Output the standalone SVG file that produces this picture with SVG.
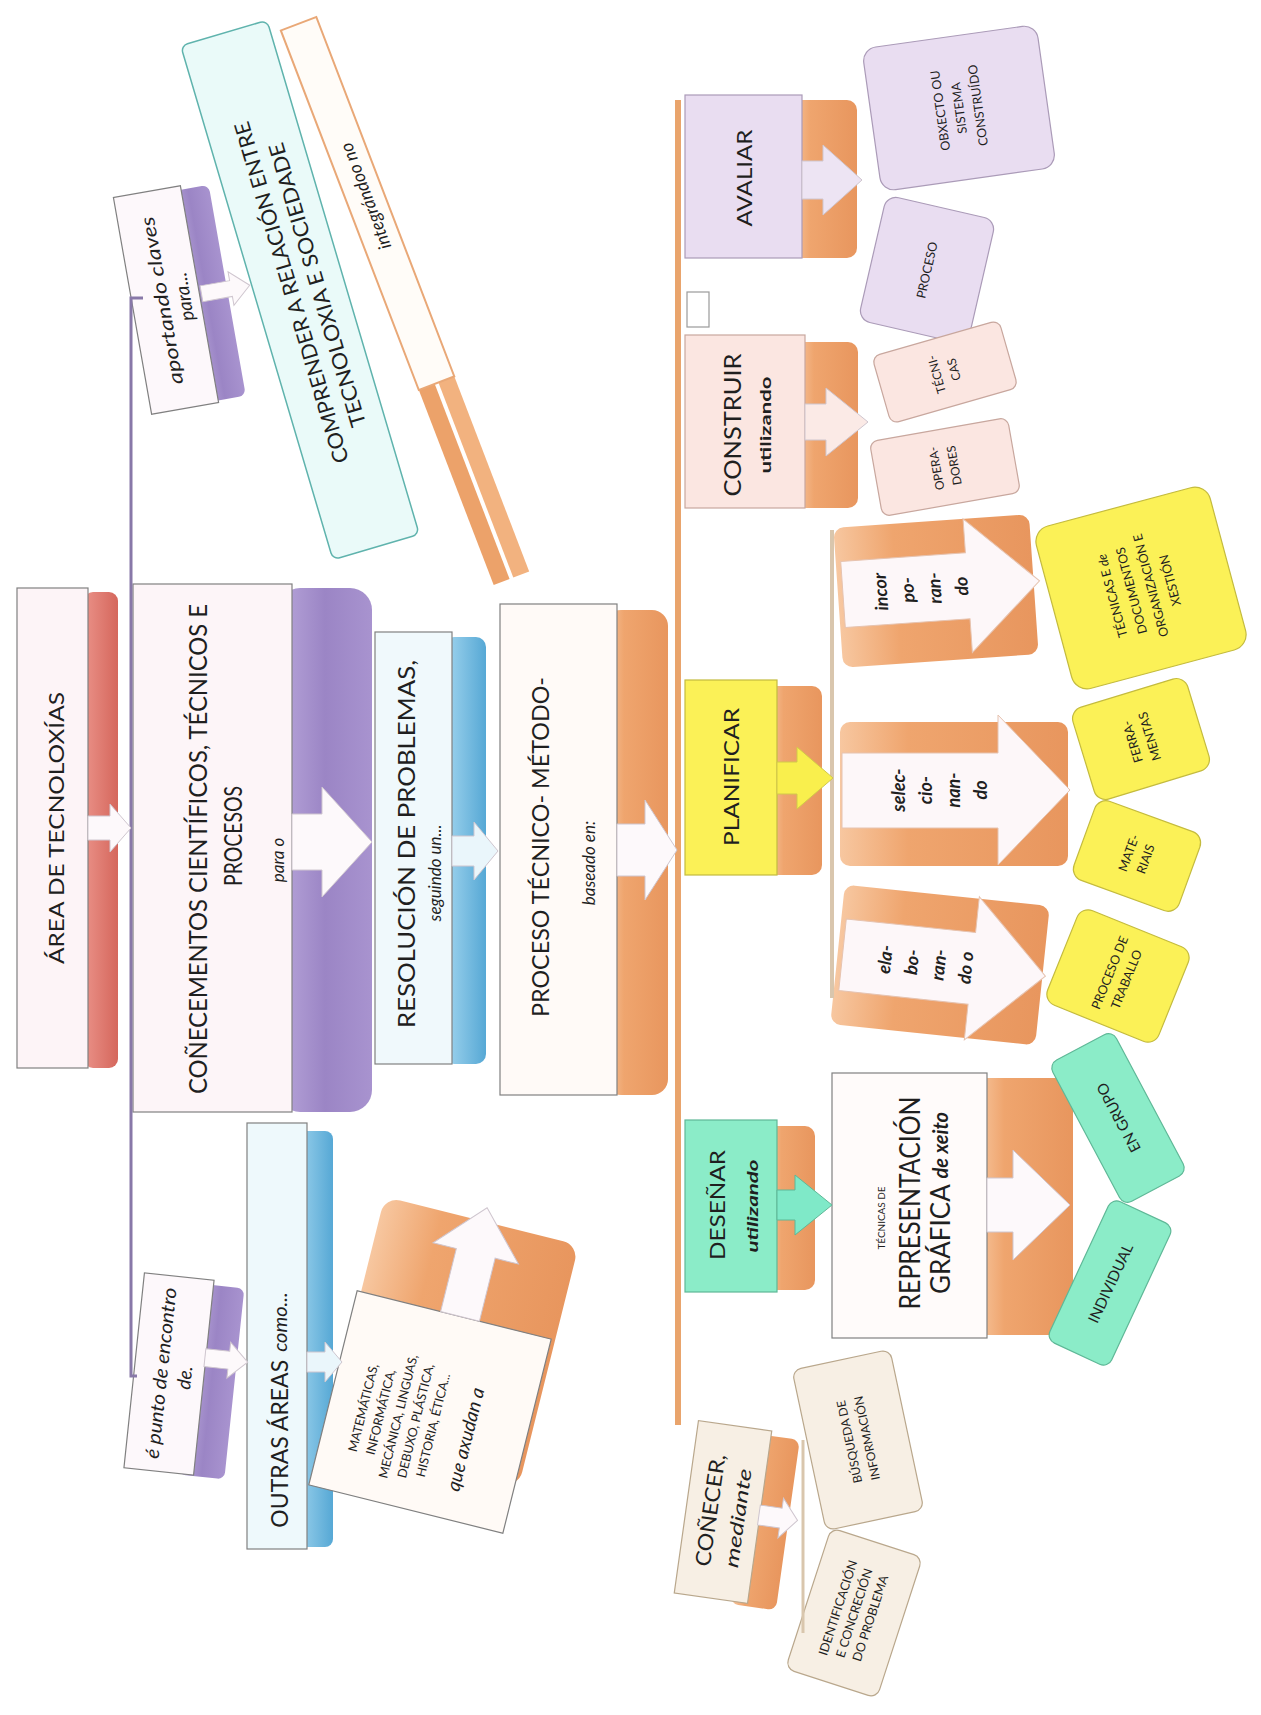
<svg xmlns="http://www.w3.org/2000/svg" width="1261" height="1715" viewBox="0 0 1261 1715">
<defs>
<linearGradient id="gO" x1="0" y1="0" x2="1" y2="0"><stop offset="0" stop-color="#f7c7a0"/><stop offset="0.3" stop-color="#efa56e"/><stop offset="1" stop-color="#e8965e"/></linearGradient>
<linearGradient id="gP" x1="0" y1="0" x2="1" y2="0"><stop offset="0" stop-color="#b8a6da"/><stop offset="0.5" stop-color="#9b85c5"/><stop offset="1" stop-color="#a893cf"/></linearGradient>
<linearGradient id="gR" x1="0" y1="0" x2="1" y2="0"><stop offset="0" stop-color="#ea9188"/><stop offset="1" stop-color="#d5675c"/></linearGradient>
<linearGradient id="gB" x1="0" y1="0" x2="1" y2="0"><stop offset="0" stop-color="#a3d6ef"/><stop offset="1" stop-color="#56a8d5"/></linearGradient>
</defs>
<style>
text{font-family:Lato,"Liberation Sans","DejaVu Sans",sans-serif;fill:#1f1f1f;text-anchor:middle;dominant-baseline:central}
.it{font-style:italic}
.bd{font-weight:bold}
.bx{stroke:#808080;stroke-width:1.2}
.yl{fill:#fbf157;stroke:#c4bb3e;stroke-width:1.2}
.mn{fill:#8becc8;stroke:#5fb897;stroke-width:1.2}
.lv{fill:#e9ddf1;stroke:#ab9bb8;stroke-width:1.2}
.pk{fill:#fbe6e1;stroke:#c8a79e;stroke-width:1.2}
.bg{fill:#f7efe4;stroke:#b9a78c;stroke-width:1.2}
.aw{fill:#fdf9fb;stroke:#cfc6cf;stroke-width:1}
.or{fill:url(#gO)}
</style>
<rect width="1261" height="1715" fill="#ffffff"/>

<g id="nodes">
<g id="area">
<rect x="84" y="592" width="34" height="476" rx="9" fill="url(#gR)"/>
<rect x="17" y="588" width="71" height="480" class="bx" fill="#fdf4f7"/>
<text transform="translate(55,828) rotate(-90)" font-size="21" textLength="272" lengthAdjust="spacingAndGlyphs">ÁREA DE TECNOLOXÍAS</text>
</g>

<g id="conecementos">
<rect x="278" y="588" width="94" height="524" rx="22" fill="url(#gP)"/>
<rect x="133" y="584" width="159" height="528" class="bx" fill="#fdf5f8"/>
<text transform="translate(197,849) rotate(-90)" font-size="25" textLength="490" lengthAdjust="spacingAndGlyphs">COÑECEMENTOS CIENTÍFICOS, TÉCNICOS E</text>
<text transform="translate(232,836) rotate(-90)" font-size="25" textLength="100" lengthAdjust="spacingAndGlyphs">PROCESOS</text>
<text transform="translate(277,860) rotate(-90)" class="it" font-size="17">para o</text>
</g>

<g id="resolucion">
<rect x="444" y="637" width="42" height="427" rx="10" fill="url(#gB)"/>
<rect x="375" y="632" width="77" height="432" class="bx" fill="#f0f9fc"/>
<text transform="translate(405,844) rotate(-90)" font-size="24" textLength="368" lengthAdjust="spacingAndGlyphs">RESOLUCIÓN DE PROBLEMAS,</text>
<text transform="translate(434,873) rotate(-90)" class="it" font-size="17">seguindo un...</text>
</g>

<g id="proceso">
<rect x="605" y="610" width="63" height="485" rx="16" class="or"/>
<rect x="500" y="604" width="117" height="491" class="bx" fill="#fffaf7"/>
<text transform="translate(539,847) rotate(-90)" font-size="24" textLength="340" lengthAdjust="spacingAndGlyphs">PROCESO TÉCNICO- MÉTODO-</text>
<text transform="translate(588,863) rotate(-90)" class="it" font-size="17">baseado en:</text>
</g>

<g id="aportando" transform="translate(166,300) rotate(-10)">
<rect x="20" y="-106" width="42" height="214" rx="7" fill="url(#gP)"/>
<rect x="-34" y="-110" width="68" height="220" class="bx" fill="#fdf8fb"/>
<text transform="translate(-5,0) rotate(-90)" class="it" font-size="19" textLength="170" lengthAdjust="spacingAndGlyphs">aportando claves</text>
<text transform="translate(17,0) rotate(-90)" class="it" font-size="19">para...</text>
</g>

<g id="comprender" transform="translate(300,290) rotate(-16.5)">
<rect x="-45" y="-268" width="90" height="536" rx="7" fill="#eafaf9" stroke="#5fb3ad" stroke-width="1.5"/>
<text transform="translate(-10,0) rotate(-90)" font-size="21" textLength="355" lengthAdjust="spacingAndGlyphs">COMPRENDER A RELACIÓN ENTRE</text>
<text transform="translate(17,0) rotate(-90)" font-size="21" textLength="295" lengthAdjust="spacingAndGlyphs">TECNOLOXIA E SOCIEDADE</text>
</g>

<g id="integrando" transform="translate(405,301) rotate(-21)">
<rect x="-19" y="88" width="17" height="209" fill="#eca26a"/>
<rect x="2" y="88" width="17" height="209" fill="#f2b27f"/>
<rect x="-19" y="-297" width="38" height="385" fill="#fffcf8" stroke="#e9a877" stroke-width="2"/>
<text transform="translate(0,-112) rotate(-90)" class="it" font-size="18">integrándoo no</text>
</g>

<g id="epunto" transform="translate(169,1374) rotate(6)">
<rect x="20" y="-93" width="46" height="192" rx="7" fill="url(#gP)"/>
<rect x="-35" y="-98" width="70" height="196" class="bx" fill="#fdf8fb"/>
<text transform="translate(-9,0) rotate(-90)" class="it" font-size="19" textLength="172" lengthAdjust="spacingAndGlyphs">é punto de encontro</text>
<text transform="translate(15,2) rotate(-90)" class="it" font-size="19">de.</text>
</g>

<g id="outras">
<rect x="293" y="1131" width="40" height="416" rx="8" fill="url(#gB)"/>
<rect x="247" y="1123" width="60" height="426" class="bx" fill="#eef9fc"/>
<text transform="translate(279,1410) rotate(-90)" font-size="23"><tspan>OUTRAS ÁREAS</tspan><tspan class="it" font-size="20" dx="8">como...</tspan></text>
</g>

<g id="materias" transform="translate(430,1412) rotate(14)">
<rect x="-96" y="-198" width="200" height="250" rx="16" class="or"/>
<rect x="-100" y="-100" width="200" height="200" class="bx" fill="#fffaf6"/>
<text transform="translate(-66,12) rotate(-90)" font-size="12.5">MATEMÁTICAS,</text>
<text transform="translate(-48,12) rotate(-90)" font-size="12.5">INFORMÁTICA,</text>
<text transform="translate(-30,12) rotate(-90)" font-size="12.5">MECÁNICA, LINGUAS,</text>
<text transform="translate(-12,12) rotate(-90)" font-size="12.5">DEBUXO, PLÁSTICA,</text>
<text transform="translate(6,12) rotate(-90)" font-size="12.5">HISTORIA, ÉTICA...</text>
<text transform="translate(40,18) rotate(-90)" class="it" font-size="19">que axudan a</text>
</g>

<g id="avaliar">
<rect x="790" y="100" width="67" height="158" rx="10" class="or"/>
<rect x="685" y="95" width="117" height="163" class="lv"/>
<text transform="translate(743,178) rotate(-90)" font-size="22" textLength="97" lengthAdjust="spacingAndGlyphs">AVALIAR</text>
</g>

<g id="obxecto" transform="translate(959,108) rotate(-8)">
<rect x="-88" y="-72" width="176" height="144" rx="14" class="lv"/>
<text transform="translate(-19,0) rotate(-90)" font-size="12.5">OBXECTO OU</text>
<text transform="translate(0,0) rotate(-90)" font-size="12.5">SISTEMA</text>
<text transform="translate(19,0) rotate(-90)" font-size="12.5">CONSTRUÍDO</text>
</g>

<g id="proceso-avaliar" transform="translate(927,270) rotate(13)">
<rect x="-56" y="-64" width="112" height="128" rx="12" class="lv"/>
<text transform="rotate(-90)" font-size="12.5">PROCESO</text>
</g>

<g id="cadro-baleiro">
<rect x="687" y="292" width="22" height="35" fill="#ffffff" stroke="#9a9a9a" stroke-width="1.2"/>
</g>

<g id="construir">
<rect x="795" y="342" width="63" height="166" rx="10" class="or"/>
<rect x="685" y="335" width="120" height="173" class="pk"/>
<text transform="translate(732,425) rotate(-90)" font-size="23" textLength="143" lengthAdjust="spacingAndGlyphs">CONSTRUIR</text>
<text transform="translate(764,425) rotate(-90)" class="bd" font-size="16" textLength="97" lengthAdjust="spacingAndGlyphs">utilizando</text>
</g>

<g id="tecnicas-construir" transform="translate(945,372) rotate(-16)">
<rect x="-66" y="-35" width="132" height="70" rx="8" class="pk"/>
<text transform="translate(-9,0) rotate(-90)" font-size="12">TÉCNI-</text>
<text transform="translate(9,0) rotate(-90)" font-size="12">CAS</text>
</g>

<g id="operadores" transform="translate(945,467) rotate(-10)">
<rect x="-70" y="-38" width="140" height="76" rx="8" class="pk"/>
<text transform="translate(-9,0) rotate(-90)" font-size="12">OPERA-</text>
<text transform="translate(9,0) rotate(-90)" font-size="12">DORES</text>
</g>

<g id="planificar">
<rect x="767" y="686" width="55" height="189" rx="10" class="or"/>
<rect x="685" y="680" width="92" height="195" class="yl"/>
<text transform="translate(730,777) rotate(-90)" font-size="22" textLength="138" lengthAdjust="spacingAndGlyphs">PLANIFICAR</text>
</g>

<g id="incorporando" transform="translate(936,591) rotate(-4)">
<rect x="-98" y="-70" width="196" height="140" rx="10" class="or"/>
<polygon points="-93,-36 32,-36 32,-70 104,-3 32,64 32,30 -93,30" fill="#fdf7f9" stroke="#e6c3b0" stroke-width="1"/>
<text transform="translate(-56,-3) rotate(-90)" class="it bd" font-size="18">incor</text>
<text transform="translate(-29,-3) rotate(-90)" class="it bd" font-size="18">po-</text>
<text transform="translate(-2,-3) rotate(-90)" class="it bd" font-size="18">ran-</text>
<text transform="translate(25,-3) rotate(-90)" class="it bd" font-size="18">do</text>
</g>

<g id="seleccionando" transform="translate(954,794)">
<rect x="-114" y="-72" width="228" height="144" rx="10" class="or"/>
<polygon points="-112,-41 44,-41 44,-79 116,-4 44,71 44,34 -112,34" fill="#fdf7f9" stroke="#e6c3b0" stroke-width="1"/>
<text transform="translate(-56,-4) rotate(-90)" class="it bd" font-size="18">selec-</text>
<text transform="translate(-29,-4) rotate(-90)" class="it bd" font-size="18">cio-</text>
<text transform="translate(-1,-4) rotate(-90)" class="it bd" font-size="18">nan-</text>
<text transform="translate(26,-4) rotate(-90)" class="it bd" font-size="18">do</text>
</g>

<g id="elaborando" transform="translate(940,965) rotate(6)">
<rect x="-103" y="-70" width="206" height="140" rx="10" class="or"/>
<polygon points="-98,-36 32,-36 32,-72 106,0 32,72 32,36 -98,36" fill="#fdf7f9" stroke="#e6c3b0" stroke-width="1"/>
<text transform="translate(-56,0) rotate(-90)" class="it bd" font-size="18">ela-</text>
<text transform="translate(-29,0) rotate(-90)" class="it bd" font-size="18">bo-</text>
<text transform="translate(-2,0) rotate(-90)" class="it bd" font-size="18">ran-</text>
<text transform="translate(25,0) rotate(-90)" class="it bd" font-size="18">do o</text>
</g>

<g id="tecnicas-documentos" transform="translate(1141,588) rotate(-15)">
<rect x="-90" y="-84" width="180" height="168" rx="16" class="yl"/>
<text transform="translate(-30,0) rotate(-90)" font-size="12.5">TÉCNICAS E <tspan class="it">de</tspan></text>
<text transform="translate(-10,0) rotate(-90)" font-size="12.5">DOCUMENTOS</text>
<text transform="translate(10,0) rotate(-90)" font-size="12.5">ORGANIZACIÓN E</text>
<text transform="translate(30,0) rotate(-90)" font-size="12.5">XESTIÓN</text>
</g>

<g id="ferramentas" transform="translate(1141,739) rotate(-17)">
<rect x="-60" y="-48" width="120" height="96" rx="12" class="yl"/>
<text transform="translate(-9,0) rotate(-90)" font-size="12.5">FERRA-</text>
<text transform="translate(9,0) rotate(-90)" font-size="12.5">MENTAS</text>
</g>

<g id="materiais" transform="translate(1137,856) rotate(20)">
<rect x="-56" y="-42" width="112" height="84" rx="12" class="yl"/>
<text transform="translate(-9,0) rotate(-90)" font-size="12.5">MATE-</text>
<text transform="translate(9,0) rotate(-90)" font-size="12.5">RIAIS</text>
</g>

<g id="proceso-traballo" transform="translate(1118,976) rotate(22)">
<rect x="-60" y="-51" width="120" height="102" rx="12" class="yl"/>
<text transform="translate(-9,0) rotate(-90)" font-size="12.5">PROCESO DE</text>
<text transform="translate(9,0) rotate(-90)" font-size="12.5">TRABALLO</text>
</g>

<g id="desenar">
<rect x="767" y="1126" width="48" height="164" rx="10" class="or"/>
<rect x="685" y="1120" width="92" height="172" class="mn"/>
<text transform="translate(716,1205) rotate(-90)" font-size="22" textLength="110" lengthAdjust="spacingAndGlyphs">DESEÑAR</text>
<text transform="translate(751,1206) rotate(-90)" class="it bd" font-size="16" textLength="93" lengthAdjust="spacingAndGlyphs">utilizando</text>
</g>

<g id="representacion">
<rect x="975" y="1078" width="98" height="257" rx="12" class="or"/>
<rect x="832" y="1073" width="155" height="265" class="bx" fill="#fffbfa"/>
<text transform="translate(881,1218) rotate(-90)" font-size="10" textLength="63" lengthAdjust="spacingAndGlyphs">TÉCNICAS DE</text>
<text transform="translate(909,1203) rotate(-90)" font-size="28" textLength="213" lengthAdjust="spacingAndGlyphs">REPRESENTACIÓN</text>
<text transform="translate(940,1203) rotate(-90)" font-size="26">GRÁFICA <tspan class="it bd" font-size="20">de xeito</tspan></text>
</g>

<g id="en-grupo" transform="translate(1118,1118) rotate(-118)">
<rect x="-80" y="-36" width="160" height="72" rx="9" class="mn"/>
<text font-size="15">EN GRUPO</text>
</g>

<g id="individual" transform="translate(1110,1283) rotate(-65)">
<rect x="-78" y="-34" width="156" height="68" rx="9" class="mn"/>
<text font-size="15">INDIVIDUAL</text>
</g>

<g id="conecer" transform="translate(723,1512) rotate(8)">
<rect x="20" y="-82" width="46" height="172" rx="8" class="or"/>
<rect x="-37" y="-87" width="74" height="174" class="bg"/>
<text transform="translate(-14,0) rotate(-90)" font-size="21" textLength="113" lengthAdjust="spacingAndGlyphs">COÑECER,</text>
<text transform="translate(15,4) rotate(-90)" class="it" font-size="19" textLength="100" lengthAdjust="spacingAndGlyphs">mediante</text>
</g>

<g id="busqueda" transform="translate(858,1440) rotate(-12)">
<rect x="-50" y="-82" width="100" height="164" rx="9" class="bg"/>
<text transform="translate(-9,0) rotate(-90)" font-size="12">BÚSQUEDA DE</text>
<text transform="translate(9,0) rotate(-90)" font-size="12">INFORMACIÓN</text>
</g>

<g id="identificacion" transform="translate(854,1613) rotate(18)">
<rect x="-48" y="-74" width="96" height="148" rx="9" class="bg" fill="#fbf4e4"/>
<text transform="translate(-17,0) rotate(-90)" font-size="12.5">IDENTIFICACIÓN</text>
<text transform="translate(0,0) rotate(-90)" font-size="12.5">E CONCRECIÓN</text>
<text transform="translate(17,0) rotate(-90)" font-size="12.5">DO PROBLEMA</text>
</g>
</g>

<g id="connectors">
<path d="M143,298 H131 V1376 H137" fill="none" stroke="#8878a8" stroke-width="3"/>
<line x1="678" y1="100" x2="678" y2="1425" stroke="#e9a46c" stroke-width="6"/>
<line x1="832" y1="530" x2="832" y2="998" stroke="#d9c6ad" stroke-width="4"/>
<line x1="803" y1="1440" x2="803" y2="1633" stroke="#d9c6ad" stroke-width="3"/>
<polygon class="aw" points="88,816 110,816 110,804 131,828 110,852 110,840 88,840"/>
<polygon class="aw" points="292,814 322,814 322,787 372,842 322,897 322,870 292,870"/>
<polygon class="aw" points="452,836 474,836 474,822 498,851 474,880 474,866 452,866" style="fill:#eaf6fb"/>
<polygon class="aw" points="617,824 645,824 645,800 677,850 645,900 645,876 617,876"/>
<polygon class="aw" points="802,161 823,161 823,145 862,180 823,215 823,199 802,199" style="fill:#ede4f3"/>
<polygon class="aw" points="805,404 826,404 826,388 868,422 826,456 826,440 805,440" style="fill:#fbeae6"/>
<polygon points="777,762 797,762 797,747 833,778 797,809 797,794 777,794" fill="#f9ef4d" stroke="#d2c94a" stroke-width="1"/>
<polygon points="777,1190 795,1190 795,1175 832,1205 795,1235 795,1220 777,1220" fill="#7fe9c8" stroke="#5fb897" stroke-width="1"/>
<polygon class="aw" points="987,1178 1013,1178 1013,1150 1070,1205 1013,1260 1013,1232 987,1232"/>
<polygon class="aw" points="307,1352 325,1352 325,1342 342,1362 325,1382 325,1372 307,1372" style="fill:#eaf6fb"/>
<polygon class="aw" transform="translate(166,300) rotate(-10)" points="36,-8 66,-8 66,-17 85,0 66,17 66,8 36,8"/>
<polygon class="aw" transform="translate(169,1374) rotate(6)" points="34,-29 58,-29 58,-38 77,-20 58,-2 58,-11 34,-11"/>
<polygon class="aw" transform="translate(723,1512) rotate(8)" points="36,-12 58,-12 58,-22 75,-2 58,18 58,8 36,8"/>
<polygon class="aw" transform="translate(430,1412) rotate(14)" points="-14,-100 -14,-165 -38,-165 6,-212 50,-165 26,-165 26,-100"/>
</g>
</svg>
